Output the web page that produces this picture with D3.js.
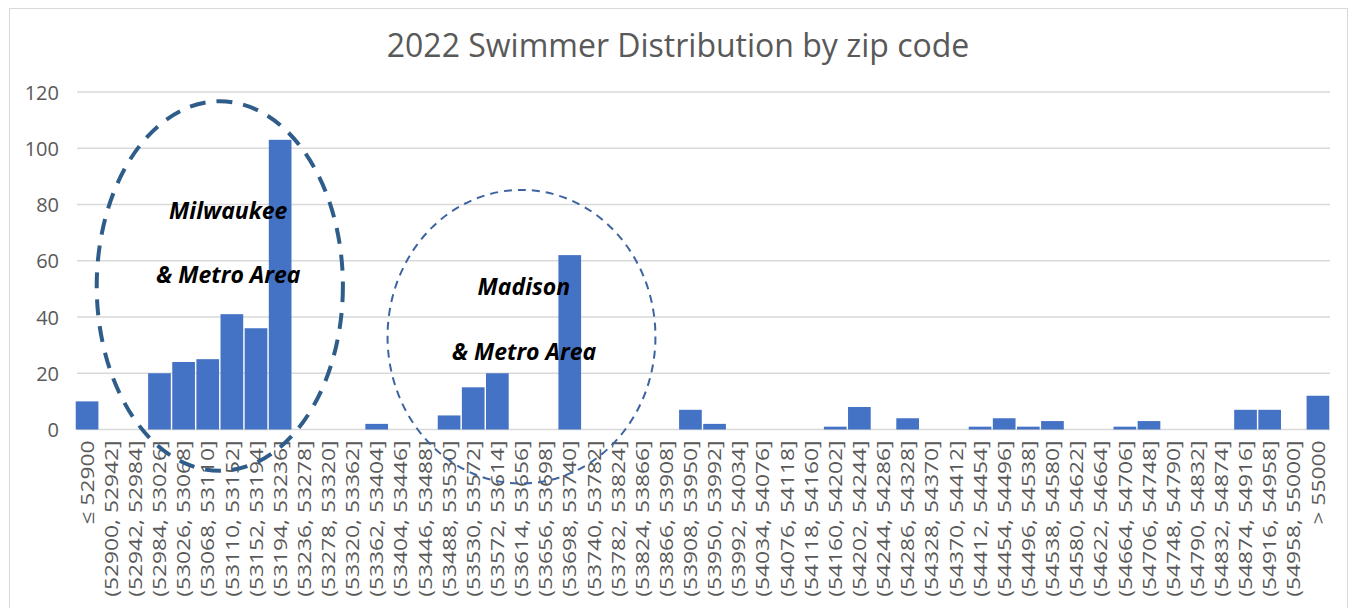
<!DOCTYPE html>
<meta charset="utf-8">
<style>
body { margin: 0; background: #fff; }
svg { display: block; }
text { font-family: "Open Sans", sans-serif; }
.grid line { stroke: #d9d9d9; stroke-width: 1.5px; }
.ytick text { fill: #595959; font-size: 20px; }
.xtick text { fill: #595959; font-size: 19px; }
.note { font-weight: bold; font-style: italic; font-size: 23px; fill: #000; }
</style>
<body>
<svg width="1350" height="608"></svg>
<script src="https://d3js.org/d3.v7.min.js"></script>
<script>

// zip code bins (width 42) plus the two open ends
var categories = [
  "\u2264 52900",
  "(52900, 52942]", "(52942, 52984]", "(52984, 53026]", "(53026, 53068]", "(53068, 53110]",
  "(53110, 53152]", "(53152, 53194]", "(53194, 53236]", "(53236, 53278]", "(53278, 53320]",
  "(53320, 53362]", "(53362, 53404]", "(53404, 53446]", "(53446, 53488]", "(53488, 53530]",
  "(53530, 53572]", "(53572, 53614]", "(53614, 53656]", "(53656, 53698]", "(53698, 53740]",
  "(53740, 53782]", "(53782, 53824]", "(53824, 53866]", "(53866, 53908]", "(53908, 53950]",
  "(53950, 53992]", "(53992, 54034]", "(54034, 54076]", "(54076, 54118]", "(54118, 54160]",
  "(54160, 54202]", "(54202, 54244]", "(54244, 54286]", "(54286, 54328]", "(54328, 54370]",
  "(54370, 54412]", "(54412, 54454]", "(54454, 54496]", "(54496, 54538]", "(54538, 54580]",
  "(54580, 54622]", "(54622, 54664]", "(54664, 54706]", "(54706, 54748]", "(54748, 54790]",
  "(54790, 54832]", "(54832, 54874]", "(54874, 54916]", "(54916, 54958]", "(54958, 55000]",
  "> 55000"
];

var swimmers = [
  10, 0, 0, 20, 24, 25, 41, 36, 103, 0,
  0, 0, 2, 0, 0, 5, 15, 20, 0, 0,
  62, 0, 0, 0, 0, 7, 2, 0, 0, 0,
  0, 1, 8, 0, 4, 0, 0, 1, 4, 1,
  3, 0, 0, 1, 3, 0, 0, 0, 7, 7,
  0, 12
];

var yTicks = [0, 20, 40, 60, 80, 100, 120];

// circled regions: centre in (bin index, value), radii in bins / value units
var regions = [
  { cx: 6.0, cy: 51, rx: 5.1, ry: 65.7, width: 4, dash: "16,11", color: "#2f5d8a" },
  { cx: 18.5, cy: 33, rx: 5.55, ry: 52.2, width: 2, dash: "8,6", color: "#3d64a0" }
];
var notes = [
  { x: 6.35, y: 75, text: "Milwaukee" },
  { x: 6.35, y: 52, text: "& Metro Area" },
  { x: 18.6, y: 47.8, text: "Madison" },
  { x: 18.6, y: 24.7, text: "& Metro Area" }
];

var svg = d3.select("svg");

svg.append("rect")
    .attr("x", 9.5).attr("y", 8.5)
    .attr("width", 1338).attr("height", 620)
    .attr("fill", "#fff")
    .attr("stroke", "#d9d9d9");

var x = d3.scaleBand()
    .domain(categories)
    .range([75, 1330])
    .paddingInner(0.06)
    .paddingOuter(0.03);

var y = d3.scaleLinear()
    .domain([0, 120])
    .range([429.5, 92]);

svg.append("text")
    .attr("x", 678).attr("y", 57)
    .attr("text-anchor", "middle")
    .attr("fill", "#595959")
    .style("font-size", "32px")
    .text("2022 Swimmer Distribution by zip code");

// gridlines + y labels
var grid = svg.append("g").attr("class", "grid");
grid.selectAll("line")
  .data(yTicks)
  .enter().append("line")
    .attr("x1", 77).attr("x2", 1330)
    .attr("y1", function(d) { return y(d); })
    .attr("y2", function(d) { return y(d); });

var yAxis = svg.append("g")
    .attr("class", "ytick")
    .attr("transform", "translate(59,0)")
    .call(d3.axisLeft(y).tickValues(yTicks).tickSize(0).tickPadding(0));
yAxis.select(".domain").remove();
yAxis.selectAll("text").attr("dy", "0.35em");

// bars
svg.append("g")
  .selectAll("rect")
  .data(swimmers)
  .enter().append("rect")
    .attr("x", function(d, i) { return x(categories[i]); })
    .attr("width", x.bandwidth())
    .attr("y", function(d) { return y(d); })
    .attr("height", function(d) { return y(0) - y(d); })
    .attr("fill", "#4472c4");

// x labels, rotated and a bit stretched along the text like the original
var xAxis = svg.append("g")
    .attr("class", "xtick")
    .attr("transform", "translate(0," + (y(0) + 11) + ")")
    .call(d3.axisBottom(x).tickSize(0).tickPadding(0));
xAxis.select(".domain").remove();
xAxis.selectAll("text")
    .attr("transform", "rotate(-90) scale(1.2,1)")
    .attr("text-anchor", "end")
    .attr("x", 0)
    .attr("y", 0)
    .attr("dy", "0.35em");

// annotations
var step = x.step(), x0 = x.range()[0];
var yUnit = y(0) - y(1);

svg.append("g")
  .selectAll("ellipse")
  .data(regions)
  .enter().append("ellipse")
    .attr("cx", function(d) { return x0 + d.cx * step; })
    .attr("cy", function(d) { return y(d.cy); })
    .attr("rx", function(d) { return d.rx * step; })
    .attr("ry", function(d) { return d.ry * yUnit; })
    .attr("fill", "none")
    .attr("stroke", function(d) { return d.color; })
    .attr("stroke-width", function(d) { return d.width; })
    .attr("stroke-dasharray", function(d) { return d.dash; });

svg.append("g")
  .selectAll("text")
  .data(notes)
  .enter().append("text")
    .attr("class", "note")
    .attr("text-anchor", "middle")
    .attr("x", function(d) { return x0 + d.x * step; })
    .attr("y", function(d) { return y(d.y); })
    .text(function(d) { return d.text; });

</script>
</body>
